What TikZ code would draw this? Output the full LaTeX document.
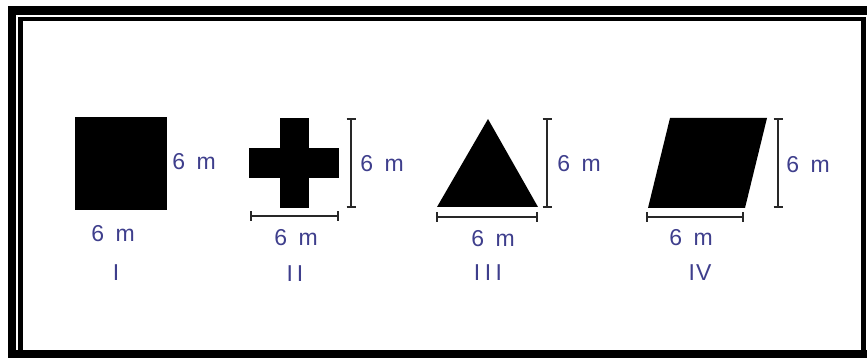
\documentclass[tikz,border=0pt]{standalone}
\usepackage{fontspec}
\setmainfont{Liberation Sans}
\definecolor{lbl}{RGB}{62,62,140}
\definecolor{dim}{RGB}{40,40,40}
\begin{document}
\begin{tikzpicture}[x=1pt,y=-1pt,
  lab/.style={text=lbl,font=\fontsize{23}{25}\selectfont,inner sep=0pt,anchor=center},
  shp/.style={fill=black,draw=none},
  dimline/.style={draw=dim,line width=2pt},
  tick/.style={draw=dim,line width=2pt}]
\useasboundingbox (0,0) rectangle (867,358);
% frame
\fill[black] (8,6) rectangle (867,15);
\fill[black] (8,6) rectangle (16,358);
\draw[black,line width=4.5pt] (20.5,19) rectangle (863.5,352);
\fill[black] (8,350) rectangle (867,358);
% I square
\fill[shp] (75,117) rectangle (167,210);
\node[lab] (l1v) at (194,162) {6\hspace{0.5em}m};
\node[lab] (l1h) at (113,234) {6\hspace{0.5em}m};
\node[lab] (n1) at (116,273) {I};
% II cross
\fill[shp] (280,118) rectangle (309,208);
\fill[shp] (249,148) rectangle (339,178);
\coordinate (c2t) at (351,119);
\coordinate (c2b) at (351,207);
\draw[dimline] (c2t) -- (c2b);
\draw[tick] ([xshift=-4.5pt]c2t) -- ([xshift=4.5pt]c2t);
\draw[tick] ([xshift=-4.5pt]c2b) -- ([xshift=4.5pt]c2b);
\coordinate (c2l) at (251,216);
\coordinate (c2r) at (338,216);
\draw[dimline] (c2l) -- (c2r);
\draw[tick] ([yshift=-4.5pt]c2l) -- ([yshift=4.5pt]c2l);
\draw[tick] ([yshift=-4.5pt]c2r) -- ([yshift=4.5pt]c2r);
\node[lab] (l2v) at (382,164) {6\hspace{0.5em}m};
\node[lab] (l2h) at (296,238) {6\hspace{0.5em}m};
\node[lab] (n2) at (295,274) {I\hspace{4pt}I};
% III triangle
\fill[shp] (488,119) -- (538,207) -- (437,207) -- cycle;
\coordinate (c3t) at (547,119);
\coordinate (c3b) at (547,207);
\draw[dimline] (c3t) -- (c3b);
\draw[tick] ([xshift=-4.5pt]c3t) -- ([xshift=4.5pt]c3t);
\draw[tick] ([xshift=-4.5pt]c3b) -- ([xshift=4.5pt]c3b);
\coordinate (c3l) at (437,217);
\coordinate (c3r) at (537,217);
\draw[dimline] (c3l) -- (c3r);
\draw[tick] ([yshift=-4.5pt]c3l) -- ([yshift=4.5pt]c3l);
\draw[tick] ([yshift=-4.5pt]c3r) -- ([yshift=4.5pt]c3r);
\node[lab] (l3v) at (579,164) {6\hspace{0.5em}m};
\node[lab] (l3h) at (493,239) {6\hspace{0.5em}m};
\node[lab] (n3) at (488,273) {I\hspace{4.5pt}I\hspace{4.5pt}I};
% IV parallelogram
\fill[shp] (670,118) -- (767,118) -- (745,208) -- (648,208) -- cycle;
\coordinate (c4t) at (778,119);
\coordinate (c4b) at (778,207);
\draw[dimline] (c4t) -- (c4b);
\draw[tick] ([xshift=-4.5pt]c4t) -- ([xshift=4.5pt]c4t);
\draw[tick] ([xshift=-4.5pt]c4b) -- ([xshift=4.5pt]c4b);
\coordinate (c4l) at (647,217);
\coordinate (c4r) at (743,217);
\draw[dimline] (c4l) -- (c4r);
\draw[tick] ([yshift=-4.5pt]c4l) -- ([yshift=4.5pt]c4l);
\draw[tick] ([yshift=-4.5pt]c4r) -- ([yshift=4.5pt]c4r);
\node[lab] (l4v) at (808,165) {6\hspace{0.5em}m};
\node[lab] (l4h) at (691,238) {6\hspace{0.5em}m};
\node[lab] (n4) at (700,273) {I\hspace{1pt}V};
\end{tikzpicture}
\end{document}
